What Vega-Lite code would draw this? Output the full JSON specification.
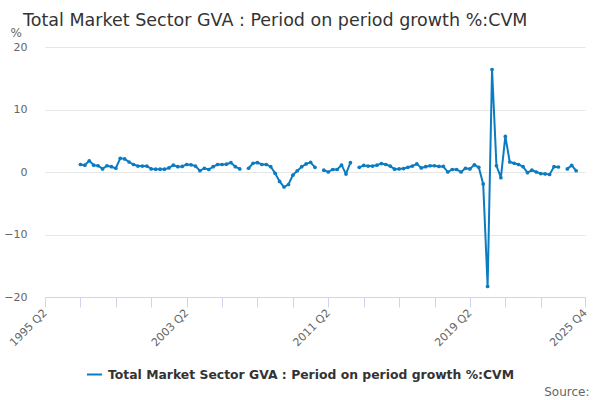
{
  "$schema": "https://vega.github.io/schema/vega-lite/v6.json",
  "autosize": {"type": "none"},
  "width": 540,
  "height": 250,
  "padding": {"left": 45, "top": 47, "right": 15, "bottom": 103},
  "background": "#ffffff",
  "config": {
    "font": "DejaVu Sans",
    "view": {"stroke": null},
    "mark": {"invalid": "break-paths-show-domains"}
  },
  "title": {
    "text": "Total Market Sector GVA : Period on period growth %:CVM",
    "anchor": "start",
    "frame": "group",
    "dx": -22,
    "offset": -17,
    "baseline": "alphabetic",
    "fontSize": 17.5,
    "fontWeight": "normal",
    "color": "#333333"
  },
  "data": {
    "values": [
      {"quarter": "1995 Q2", "value": null},
      {"quarter": "1995 Q3", "value": null},
      {"quarter": "1995 Q4", "value": null},
      {"quarter": "1996 Q1", "value": null},
      {"quarter": "1996 Q2", "value": null},
      {"quarter": "1996 Q3", "value": null},
      {"quarter": "1996 Q4", "value": null},
      {"quarter": "1997 Q1", "value": null},
      {"quarter": "1997 Q2", "value": 1.2},
      {"quarter": "1997 Q3", "value": 1.1},
      {"quarter": "1997 Q4", "value": 1.8},
      {"quarter": "1998 Q1", "value": 1.1},
      {"quarter": "1998 Q2", "value": 1.0},
      {"quarter": "1998 Q3", "value": 0.5},
      {"quarter": "1998 Q4", "value": 1.0},
      {"quarter": "1999 Q1", "value": 0.85},
      {"quarter": "1999 Q2", "value": 0.6},
      {"quarter": "1999 Q3", "value": 2.2},
      {"quarter": "1999 Q4", "value": 2.1},
      {"quarter": "2000 Q1", "value": 1.6},
      {"quarter": "2000 Q2", "value": 1.2},
      {"quarter": "2000 Q3", "value": 0.95},
      {"quarter": "2000 Q4", "value": 0.95},
      {"quarter": "2001 Q1", "value": 0.95},
      {"quarter": "2001 Q2", "value": 0.5},
      {"quarter": "2001 Q3", "value": 0.45},
      {"quarter": "2001 Q4", "value": 0.45},
      {"quarter": "2002 Q1", "value": 0.45},
      {"quarter": "2002 Q2", "value": 0.65},
      {"quarter": "2002 Q3", "value": 1.1},
      {"quarter": "2002 Q4", "value": 0.85},
      {"quarter": "2003 Q1", "value": 0.9},
      {"quarter": "2003 Q2", "value": 1.2},
      {"quarter": "2003 Q3", "value": 1.15},
      {"quarter": "2003 Q4", "value": 0.95},
      {"quarter": "2004 Q1", "value": 0.2},
      {"quarter": "2004 Q2", "value": 0.6},
      {"quarter": "2004 Q3", "value": 0.4},
      {"quarter": "2004 Q4", "value": 0.85},
      {"quarter": "2005 Q1", "value": 1.2},
      {"quarter": "2005 Q2", "value": 1.2},
      {"quarter": "2005 Q3", "value": 1.25},
      {"quarter": "2005 Q4", "value": 1.5},
      {"quarter": "2006 Q1", "value": 0.85},
      {"quarter": "2006 Q2", "value": 0.5},
      {"quarter": "2006 Q3", "value": null},
      {"quarter": "2006 Q4", "value": 0.6},
      {"quarter": "2007 Q1", "value": 1.4},
      {"quarter": "2007 Q2", "value": 1.5},
      {"quarter": "2007 Q3", "value": 1.2},
      {"quarter": "2007 Q4", "value": 1.2},
      {"quarter": "2008 Q1", "value": 0.85},
      {"quarter": "2008 Q2", "value": -0.2},
      {"quarter": "2008 Q3", "value": -1.5},
      {"quarter": "2008 Q4", "value": -2.4},
      {"quarter": "2009 Q1", "value": -2.0},
      {"quarter": "2009 Q2", "value": -0.5},
      {"quarter": "2009 Q3", "value": 0.2},
      {"quarter": "2009 Q4", "value": 0.85},
      {"quarter": "2010 Q1", "value": 1.3},
      {"quarter": "2010 Q2", "value": 1.55},
      {"quarter": "2010 Q3", "value": 0.75},
      {"quarter": "2010 Q4", "value": null},
      {"quarter": "2011 Q1", "value": 0.3},
      {"quarter": "2011 Q2", "value": 0.0},
      {"quarter": "2011 Q3", "value": 0.4},
      {"quarter": "2011 Q4", "value": 0.4},
      {"quarter": "2012 Q1", "value": 1.1},
      {"quarter": "2012 Q2", "value": -0.3},
      {"quarter": "2012 Q3", "value": 1.5},
      {"quarter": "2012 Q4", "value": null},
      {"quarter": "2013 Q1", "value": 0.75},
      {"quarter": "2013 Q2", "value": 1.05},
      {"quarter": "2013 Q3", "value": 0.95},
      {"quarter": "2013 Q4", "value": 0.95},
      {"quarter": "2014 Q1", "value": 1.1},
      {"quarter": "2014 Q2", "value": 1.35},
      {"quarter": "2014 Q3", "value": 1.2},
      {"quarter": "2014 Q4", "value": 0.95},
      {"quarter": "2015 Q1", "value": 0.45},
      {"quarter": "2015 Q2", "value": 0.5},
      {"quarter": "2015 Q3", "value": 0.55},
      {"quarter": "2015 Q4", "value": 0.75},
      {"quarter": "2016 Q1", "value": 0.95},
      {"quarter": "2016 Q2", "value": 1.3},
      {"quarter": "2016 Q3", "value": 0.65},
      {"quarter": "2016 Q4", "value": 0.85},
      {"quarter": "2017 Q1", "value": 1.0},
      {"quarter": "2017 Q2", "value": 1.0},
      {"quarter": "2017 Q3", "value": 0.9},
      {"quarter": "2017 Q4", "value": 0.9},
      {"quarter": "2018 Q1", "value": 0.0},
      {"quarter": "2018 Q2", "value": 0.4},
      {"quarter": "2018 Q3", "value": 0.4},
      {"quarter": "2018 Q4", "value": 0.0},
      {"quarter": "2019 Q1", "value": 0.6},
      {"quarter": "2019 Q2", "value": 0.5},
      {"quarter": "2019 Q3", "value": 1.15},
      {"quarter": "2019 Q4", "value": 0.75},
      {"quarter": "2020 Q1", "value": -1.9},
      {"quarter": "2020 Q2", "value": -18.3},
      {"quarter": "2020 Q3", "value": 16.4},
      {"quarter": "2020 Q4", "value": 1.0},
      {"quarter": "2021 Q1", "value": -0.9},
      {"quarter": "2021 Q2", "value": 5.7},
      {"quarter": "2021 Q3", "value": 1.6},
      {"quarter": "2021 Q4", "value": 1.4},
      {"quarter": "2022 Q1", "value": 1.2},
      {"quarter": "2022 Q2", "value": 0.85},
      {"quarter": "2022 Q3", "value": -0.1},
      {"quarter": "2022 Q4", "value": 0.3},
      {"quarter": "2023 Q1", "value": 0.0},
      {"quarter": "2023 Q2", "value": -0.25},
      {"quarter": "2023 Q3", "value": -0.3},
      {"quarter": "2023 Q4", "value": -0.4},
      {"quarter": "2024 Q1", "value": 0.85},
      {"quarter": "2024 Q2", "value": 0.8},
      {"quarter": "2024 Q3", "value": null},
      {"quarter": "2024 Q4", "value": 0.5},
      {"quarter": "2025 Q1", "value": 1.05},
      {"quarter": "2025 Q2", "value": 0.2},
      {"quarter": "2025 Q3", "value": null},
      {"quarter": "2025 Q4", "value": null}
    ]
  },
  "encoding": {
    "x": {
      "field": "quarter",
      "type": "ordinal",
      "sort": null,
      "scale": {"type": "point", "padding": 0},
      "axis": {
        "values": ["1995 Q2", "1997 Q2", "1999 Q2", "2001 Q2", "2003 Q2", "2005 Q2", "2007 Q2", "2009 Q2", "2011 Q2", "2013 Q2", "2015 Q2", "2017 Q2", "2019 Q2", "2021 Q2", "2023 Q2", "2025 Q4"],
        "labelExpr": "indexof(['1995 Q2','2003 Q2','2011 Q2','2019 Q2','2025 Q4'], datum.value) >= 0 ? datum.value : ''",
        "labelAngle": -45,
        "labelAlign": "right",
        "labelBaseline": "middle",
        "labelPadding": 4,
        "labelFontSize": 11,
        "labelColor": "#666666",
        "labelOverlap": false,
        "tickSize": 10,
        "tickColor": "#ccd6eb",
        "domainColor": "#ccd6eb",
        "grid": false,
        "title": "Source:",
        "titleX": 544,
        "titleY": 98,
        "titleAlign": "right",
        "titleAnchor": null,
        "titleBaseline": "alphabetic",
        "titleFontSize": 12,
        "titleFontWeight": "normal",
        "titleColor": "#666666"
      }
    },
    "y": {
      "field": "value",
      "type": "quantitative",
      "scale": {"domain": [-20, 20], "nice": false, "zero": false},
      "axis": {
        "values": [-20, -10, 0, 10, 20],
        "domain": false,
        "ticks": false,
        "labelPadding": 18,
        "labelFontSize": 11,
        "labelColor": "#666666",
        "gridColor": "#e6e6e6",
        "gridWidth": 1,
        "title": "%",
        "titleAngle": 0,
        "titleX": -35,
        "titleY": -11,
        "titleAlign": "left",
        "titleBaseline": "alphabetic",
        "titleFontSize": 12,
        "titleFontWeight": "normal",
        "titleColor": "#666666"
      }
    },
    "color": {
      "datum": "Total Market Sector GVA : Period on period growth %:CVM",
      "type": "nominal",
      "scale": {"range": ["#0b7cc1"]},
      "legend": {
        "title": null,
        "orient": "none",
        "legendX": 41,
        "legendY": 319,
        "symbolType": "stroke",
        "symbolSize": 225,
        "symbolStrokeWidth": 2,
        "labelFontSize": 12.4,
        "labelFontWeight": "bold",
        "labelColor": "#333333",
        "labelLimit": 600,
        "labelOffset": 5
      }
    }
  },
  "layer": [
    {"mark": {"type": "line", "strokeWidth": 2}},
    {"mark": {"type": "point", "filled": true, "size": 14, "opacity": 1}}
  ]
}
